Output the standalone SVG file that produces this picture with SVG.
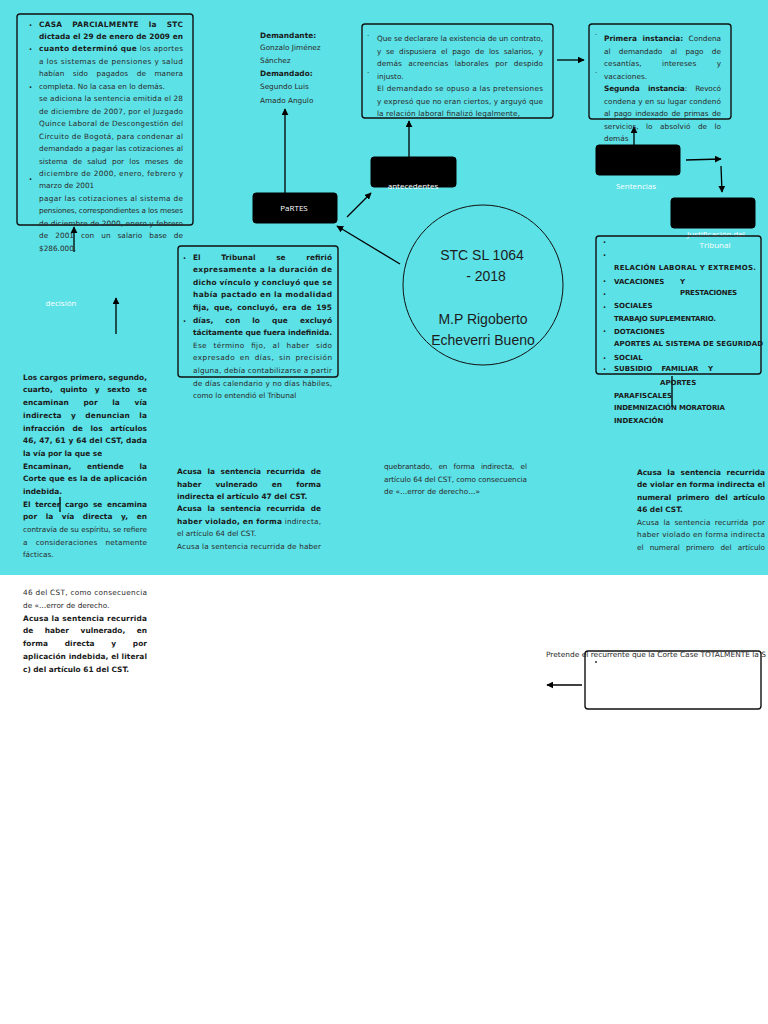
<svg xmlns="http://www.w3.org/2000/svg" width="768" height="1024" viewBox="0 0 768 1024">
<style>
text{font-family:"DejaVu Sans","Open Sans",sans-serif;fill:#222}
.b{font-size:7.4px;font-weight:bold;fill:#1a1a1a}
.s{font-size:7.3px;fill:#2a2a2a}
.w{font-family:"Open Sans",sans-serif;font-size:8px;fill:#ffffff;text-anchor:middle}
.box{fill:none;stroke:#111;stroke-width:1.4}
.node{fill:#000;stroke:#000}
.c{stroke:#000;stroke-width:1.3;fill:none}
.big{font-family:"Liberation Sans",Arial,sans-serif;font-size:14px;fill:#1c1c1c;text-anchor:middle}
.bu{font-size:8px;font-weight:bold;fill:#1a1a1a}
.cap{font-size:7px;font-weight:bold;fill:#1a1a1a}
</style>
<defs>
<marker id="ah" viewBox="0 0 10 10" refX="9" refY="5" markerWidth="7" markerHeight="7" orient="auto" markerUnits="userSpaceOnUse">
<path d="M0,0 L10,5 L0,10 z" fill="#000"/>
</marker>
</defs>
<rect x="0" y="0" width="768" height="575" fill="#5ce1e6"/>
<rect x="0" y="575" width="768" height="449" fill="#ffffff"/>

<g id="connectors">
<line class="c" x1="74" y1="252" x2="74" y2="227" marker-end="url(#ah)"/>
<line class="c" x1="285" y1="193" x2="285" y2="109" marker-end="url(#ah)"/>
<line class="c" x1="409" y1="157" x2="409" y2="121" marker-end="url(#ah)"/>
<line class="c" x1="557" y1="60" x2="584" y2="60" marker-end="url(#ah)"/>
<line class="c" x1="634" y1="145" x2="634" y2="127" marker-end="url(#ah)"/>
<line class="c" x1="686" y1="160" x2="721" y2="159" marker-end="url(#ah)"/>
<line class="c" x1="721" y1="166" x2="722" y2="192" marker-end="url(#ah)"/>
<line class="c" x1="400" y1="264" x2="337" y2="226" marker-end="url(#ah)"/>
<line class="c" x1="347" y1="217" x2="371" y2="193" marker-end="url(#ah)"/>
<line class="c" x1="116" y1="334" x2="116" y2="298" marker-end="url(#ah)"/>
<line class="c" x1="672" y1="376" x2="672" y2="407"/>
<line class="c" x1="60" y1="497" x2="60" y2="512"/>
<line class="c" x1="582" y1="685" x2="547" y2="685" marker-end="url(#ah)"/>
</g>

<g id="fallo-box">
<rect class="box" x="17" y="14" width="176" height="211" rx="3"/>
<text class="bu" x="29" y="26">.</text>
<text class="bu" x="29" y="50">.</text>
<text class="bu" x="29" y="88">.</text>
<text class="bu" x="29" y="180">.</text>
<text class="b" x="39" y="26.5" word-spacing="7" textLength="144" lengthAdjust="spacing">CASA PARCIALMENTE la STC</text>
<text class="b" x="39" y="39" textLength="144" lengthAdjust="spacing">dictada el 29 de enero de 2009 en</text>
<text x="39" y="51.4" textLength="144" lengthAdjust="spacing"><tspan class="b">cuanto determinó que</tspan><tspan class="s"> los aportes</tspan></text>
<text class="s" x="39" y="63.9" textLength="144" lengthAdjust="spacing">a los sistemas de pensiones y salud</text>
<text class="s" x="39" y="76.3" word-spacing="6" textLength="144" lengthAdjust="spacing">habían sido pagados de manera</text>
<text class="s" x="39" y="88.8">completa. No la casa en lo demás.</text>
<text class="s" x="39" y="101.2" textLength="144" lengthAdjust="spacing">se adiciona la sentencia emitida el 28</text>
<text class="s" x="39" y="113.7" textLength="144" lengthAdjust="spacing">de diciembre de 2007, por el Juzgado</text>
<text class="s" x="39" y="126.1" textLength="144" lengthAdjust="spacing">Quince Laboral de Descongestión del</text>
<text class="s" x="39" y="138.6" textLength="144" lengthAdjust="spacing">Circuito de Bogotá, para condenar al</text>
<text class="s" x="39" y="151" textLength="144" lengthAdjust="spacing">demandado a pagar las cotizaciones al</text>
<text class="s" x="39" y="163.5" word-spacing="3" textLength="144" lengthAdjust="spacing">sistema de salud por los meses de</text>
<text class="s" x="39" y="175.9" textLength="144" lengthAdjust="spacing">diciembre de 2000, enero, febrero y</text>
<text class="s" x="39" y="188.4">marzo de 2001</text>
<text class="s" x="39" y="200.8" textLength="144" lengthAdjust="spacing">pagar las cotizaciones al sistema de</text>
<text class="s" x="39" y="213.3" textLength="144" lengthAdjust="spacing">pensiones, correspondientes a los meses</text>
<text class="s" x="39" y="225.7" textLength="144" lengthAdjust="spacing">de diciembre de 2000, enero y febrero</text>
<text class="s" x="39" y="238.2" word-spacing="4.5" textLength="144" lengthAdjust="spacing">de 2001 con un salario base de</text>
<text class="s" x="39" y="250.6">$286.000.</text>
</g>

<g id="partes-text">
<text class="b" x="260" y="37.5">Demandante:</text>
<text class="s" x="260" y="50">Gonzalo Jiménez</text>
<text class="s" x="260" y="63.3">Sánchez</text>
<text class="b" x="260" y="76">Demandado:</text>
<text class="s" x="260" y="89.3">Segundo Luis</text>
<text class="s" x="260" y="102.5">Amado Angulo</text>
</g>

<g id="partes">
<rect class="node" x="253" y="193" width="84" height="30" rx="3"/>
<text class="w" x="294" y="211">PaRTES</text>
</g>

<g id="antecedentes">
<rect class="node" x="371" y="157" width="85" height="30" rx="3"/>
<text class="w" x="413" y="189">antecedentes</text>
</g>

<g id="antecedentes-box">
<rect class="box" x="362" y="24" width="191" height="94" rx="3"/>
<text class="s" x="367" y="38">·</text>
<text class="s" x="367" y="75">·</text>
<text class="s" x="377" y="41" textLength="166" lengthAdjust="spacing">Que se declarare la existencia de un contrato,</text>
<text class="s" x="377" y="53.5" word-spacing="2.5" textLength="166" lengthAdjust="spacing">y se dispusiera el pago de los salarios, y</text>
<text class="s" x="377" y="66" word-spacing="4" textLength="166" lengthAdjust="spacing">demás acreencias laborales por despido</text>
<text class="s" x="377" y="78.5">injusto.</text>
<text class="s" x="377" y="91" textLength="166" lengthAdjust="spacing">El demandado se opuso a las pretensiones</text>
<text class="s" x="377" y="103.5" textLength="166" lengthAdjust="spacing">y expresó que no eran ciertos, y arguyó que</text>
<text class="s" x="377" y="116" textLength="143" lengthAdjust="spacing">la relación laboral finalizó legalmente,</text>
</g>

<g id="sentencias-box">
<rect class="box" x="589" y="24" width="142" height="95" rx="3"/>
<text class="s" x="595" y="37">·</text>
<text class="s" x="595" y="75">·</text>
<text x="604" y="41" word-spacing="3" textLength="117" lengthAdjust="spacing"><tspan class="b">Primera instancia:</tspan><tspan class="s"> Condena</tspan></text>
<text class="s" x="604" y="53.5" word-spacing="6" textLength="117" lengthAdjust="spacing">al demandado al pago de</text>
<text class="s" x="604" y="66" word-spacing="18" textLength="117" lengthAdjust="spacing">cesantías, intereses y</text>
<text class="s" x="604" y="78.5">vacaciones.</text>
<text x="604" y="91" word-spacing="6" textLength="117" lengthAdjust="spacing"><tspan class="b">Segunda instancia</tspan><tspan class="s">: Revocó</tspan></text>
<text class="s" x="604" y="103.5" textLength="117" lengthAdjust="spacing">condena y en su lugar condenó</text>
<text class="s" x="604" y="116" word-spacing="1.5" textLength="117" lengthAdjust="spacing">al pago indexado de primas de</text>
<text class="s" x="604" y="128.5" word-spacing="5" textLength="117" lengthAdjust="spacing">servicios, lo absolvió de lo</text>
<text class="s" x="604" y="141">demás</text>
</g>

<g id="sentencias">
<rect class="node" x="596" y="145" width="84" height="30" rx="3"/>
<text class="w" x="636" y="189">Sentencias</text>
</g>

<g id="justificacion">
<rect class="node" x="671" y="198" width="84" height="30" rx="3"/>
<text class="w" x="716" y="237">Justificación del</text>
<text class="w" x="715" y="248">Tribunal</text>
</g>

<g id="stc">
<circle cx="483" cy="285" r="80" fill="none" stroke="#111" stroke-width="1"/>
<text class="big" x="482" y="260">STC SL 1064</text>
<text class="big" x="486" y="281">- 2018</text>
<text class="big" x="483" y="324">M.P Rigoberto</text>
<text class="big" x="483" y="345">Echeverri Bueno</text>
</g>

<g id="tribunal-box">
<rect class="box" x="178" y="246" width="160" height="131" rx="3"/>
<text class="bu" x="183" y="259">.</text>
<text class="bu" x="183" y="322">.</text>
<text class="b" x="193" y="259.5" word-spacing="18" textLength="139" lengthAdjust="spacing">El Tribunal se refirió</text>
<text class="b" x="193" y="272.1" textLength="139" lengthAdjust="spacing">expresamente a la duración de</text>
<text class="b" x="193" y="284.7" textLength="139" lengthAdjust="spacing">dicho vínculo y concluyó que se</text>
<text class="b" x="193" y="297.3" textLength="139" lengthAdjust="spacing">había pactado en la modalidad</text>
<text class="b" x="193" y="309.9" word-spacing="2" textLength="139" lengthAdjust="spacing">fija, que, concluyó, era de 195</text>
<text class="b" x="193" y="322.5" word-spacing="9.5" textLength="139" lengthAdjust="spacing">días, con lo que excluyó</text>
<text class="b" x="193" y="335.1" textLength="139" lengthAdjust="spacing">tácitamente que fuera indefinida.</text>
<text class="s" x="193" y="347.7" word-spacing="4" textLength="139" lengthAdjust="spacing">Ese término fijo, al haber sido</text>
<text class="s" x="193" y="360.3" word-spacing="2" textLength="139" lengthAdjust="spacing">expresado en días, sin precisión</text>
<text class="s" x="193" y="372.9" textLength="139" lengthAdjust="spacing">alguna, debía contabilizarse a partir</text>
<text class="s" x="193" y="385.5" textLength="139" lengthAdjust="spacing">de días calendario y no días hábiles,</text>
<text class="s" x="193" y="398.1">como lo entendió el Tribunal</text>
</g>

<g id="justificacion-box">
<rect class="box" x="596" y="236" width="165" height="138" rx="3"/>
<text class="bu" x="603" y="243">.</text>
<text class="bu" x="603" y="256">.</text>
<text class="bu" x="603" y="282">.</text>
<text class="bu" x="603" y="295">.</text>
<text class="bu" x="603" y="308">.</text>
<text class="bu" x="603" y="332">.</text>
<text class="bu" x="603" y="359">.</text>
<text class="bu" x="603" y="370">.</text>
<text class="cap" x="614" y="270.3" textLength="142" lengthAdjust="spacing">RELACIÓN LABORAL Y EXTREMOS.</text>
<text class="cap" x="614" y="283.7">VACACIONES</text>
<text class="cap" x="680" y="283.7">Y</text>
<text class="cap" x="680" y="295.3" textLength="57" lengthAdjust="spacing">PRESTACIONES</text>
<text class="cap" x="614" y="308">SOCIALES</text>
<text class="cap" x="614" y="321.3" textLength="102" lengthAdjust="spacing">TRABAJO SUPLEMENTARIO.</text>
<text class="cap" x="614" y="333.7">DOTACIONES</text>
<text class="cap" x="614" y="346.3" textLength="149" lengthAdjust="spacing">APORTES AL SISTEMA DE SEGURIDAD</text>
<text class="cap" x="614" y="359.7">SOCIAL</text>
<text class="cap" x="614" y="371.3" word-spacing="7" textLength="99" lengthAdjust="spacing">SUBSIDIO FAMILIAR Y</text>
<text class="cap" x="660" y="384.7">APORTES</text>
<text class="cap" x="614" y="397.7">PARAFISCALES</text>
<text class="cap" x="614" y="410.3" textLength="111" lengthAdjust="spacing">INDEMNIZACIÓN MORATORIA</text>
<text class="cap" x="614" y="423">INDEXACIÓN</text>
</g>

<g id="decision">
<text class="w" x="61" y="306">decisión</text>
</g>

<g id="cargos-text">
<text class="b" x="23" y="379.7" textLength="124" lengthAdjust="spacing">Los cargos primero, segundo,</text>
<text class="b" x="23" y="392.4" word-spacing="5" textLength="124" lengthAdjust="spacing">cuarto, quinto y sexto se</text>
<text class="b" x="23" y="405.1" word-spacing="12" textLength="124" lengthAdjust="spacing">encaminan por la vía</text>
<text class="b" x="23" y="417.8" word-spacing="6.5" textLength="124" lengthAdjust="spacing">indirecta y denuncian la</text>
<text class="b" x="23" y="430.5" word-spacing="5" textLength="124" lengthAdjust="spacing">infracción de los artículos</text>
<text class="b" x="23" y="443.1" textLength="124" lengthAdjust="spacing">46, 47, 61 y 64 del CST, dada</text>
<text class="b" x="23" y="455.8">la vía por la que se</text>
<text class="b" x="23" y="468.5" word-spacing="13" textLength="124" lengthAdjust="spacing">Encaminan, entiende la</text>
<text class="b" x="23" y="481.2" textLength="124" lengthAdjust="spacing">Corte que es la de aplicación</text>
<text class="b" x="23" y="493.9">indebida.</text>
<text class="b" x="23" y="506.6" word-spacing="2" textLength="124" lengthAdjust="spacing">El tercer cargo se encamina</text>
<text class="b" x="23" y="519.3" word-spacing="6" textLength="124" lengthAdjust="spacing">por la vía directa y, en</text>
<text class="s" x="23" y="532" textLength="124" lengthAdjust="spacing">contravía de su espíritu, se refiere</text>
<text class="s" x="23" y="544.7" word-spacing="5.5" textLength="124" lengthAdjust="spacing">a consideraciones netamente</text>
<text class="s" x="23" y="557.3">fácticas.</text>
</g>

<g id="acusa47-text">
<text class="b" x="177" y="474" word-spacing="3" textLength="144" lengthAdjust="spacing">Acusa la sentencia recurrida de</text>
<text class="b" x="177" y="486.5" word-spacing="11.5" textLength="144" lengthAdjust="spacing">haber vulnerado en forma</text>
<text class="b" x="177" y="498.5">indirecta el artículo 47 del CST.</text>
<text class="b" x="177" y="511" word-spacing="3" textLength="144" lengthAdjust="spacing">Acusa la sentencia recurrida de</text>
<text x="177" y="523.5" textLength="144" lengthAdjust="spacing"><tspan class="b">haber violado, en forma</tspan><tspan class="s"> indirecta,</tspan></text>
<text class="s" x="177" y="536">el artículo 64 del CST.</text>
<text class="s" x="177" y="549" textLength="144" lengthAdjust="spacing">Acusa la sentencia recurrida de haber</text>
</g>

<g id="quebrantado-text">
<text class="s" x="384" y="469" word-spacing="4" textLength="143" lengthAdjust="spacing">quebrantado, en forma indirecta, el</text>
<text class="s" x="384" y="481.5" textLength="143" lengthAdjust="spacing">artículo 64 del CST, como consecuencia</text>
<text class="s" x="384" y="494">de «…error de derecho…»</text>
</g>

<g id="acusa46-text">
<text class="b" x="637" y="474.7" word-spacing="3" textLength="128" lengthAdjust="spacing">Acusa la sentencia recurrida</text>
<text class="b" x="637" y="487.3" textLength="128" lengthAdjust="spacing">de violar en forma indirecta el</text>
<text class="b" x="637" y="499.7" word-spacing="3" textLength="128" lengthAdjust="spacing">numeral primero del artículo</text>
<text class="b" x="637" y="512">46 del CST.</text>
<text class="s" x="637" y="524.5" word-spacing="2" textLength="128" lengthAdjust="spacing">Acusa la sentencia recurrida por</text>
<text class="s" x="637" y="537" textLength="128" lengthAdjust="spacing">haber violado en forma indirecta</text>
<text class="s" x="637" y="549.5" word-spacing="4" textLength="128" lengthAdjust="spacing">el numeral primero del artículo</text>
</g>

<g id="acusa61-text">
<text class="s" x="23" y="595" textLength="124" lengthAdjust="spacing">46 del CST, como consecuencia</text>
<text class="s" x="23" y="607.7">de «…error de derecho.</text>
<text class="b" x="23" y="620.7" textLength="124" lengthAdjust="spacing">Acusa la sentencia recurrida</text>
<text class="b" x="23" y="633.3" word-spacing="9" textLength="124" lengthAdjust="spacing">de haber vulnerado, en</text>
<text class="b" x="23" y="646" word-spacing="14" textLength="124" lengthAdjust="spacing">forma directa y por</text>
<text class="b" x="23" y="659" textLength="124" lengthAdjust="spacing">aplicación indebida, el literal</text>
<text class="b" x="23" y="672.3">c) del artículo 61 del CST.</text>
</g>

<g id="pretende">
<text class="s" x="546" y="657" font-size="6.6" textLength="220" lengthAdjust="spacingAndGlyphs">Pretende el recurrente que la Corte Case TOTALMENTE la S</text>
<rect class="box" x="585" y="651" width="176" height="58" rx="3"/>
<circle cx="596" cy="662" r="0.9" fill="#222"/>
</g>
</svg>
